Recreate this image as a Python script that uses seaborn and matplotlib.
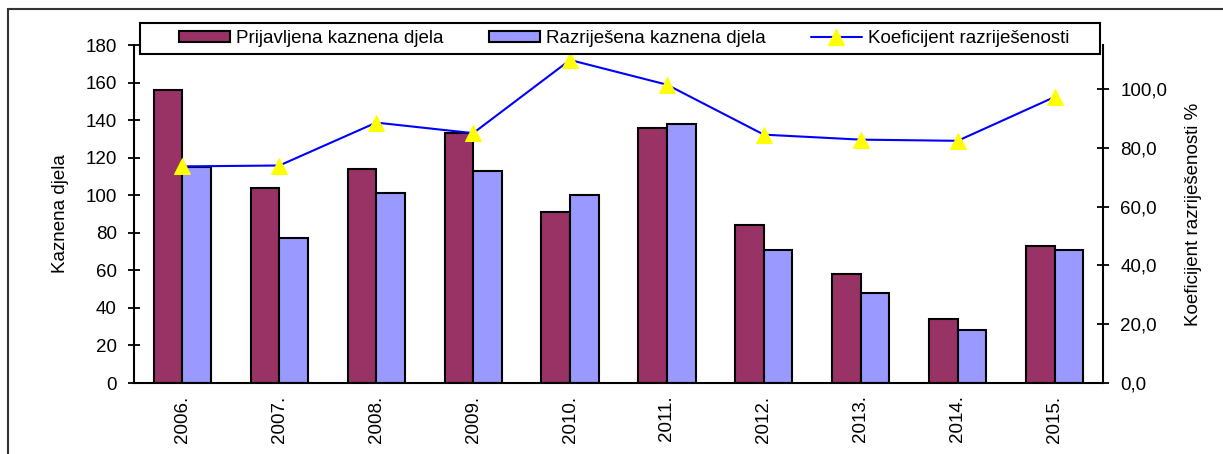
import numpy as np
import pandas as pd
import matplotlib
matplotlib.use("Agg")
import matplotlib.pyplot as plt
from matplotlib.patches import Rectangle, Patch
from matplotlib.lines import Line2D
from matplotlib.ticker import FixedLocator, FuncFormatter
import seaborn as sns

years = ["2006.", "2007.", "2008.", "2009.", "2010.", "2011.", "2012.", "2013.", "2014.", "2015."]
prijavljena = [156, 104, 114, 133, 91, 136, 84, 58, 34, 73]
razrijesena = [115, 77, 101, 113, 100, 138, 71, 48, 28, 71]
koeficijent = [73.7, 74.0, 88.6, 85.0, 109.9, 101.5, 84.5, 82.8, 82.4, 97.3]

s1 = "Prijavljena kaznena djela"
s2 = "Razriješena kaznena djela"
s3 = "Koeficijent razriješenosti"

sns.set_theme(style="white")
plt.rcParams['font.family'] = ['Liberation Sans', 'DejaVu Sans']
plt.rcParams['text.color'] = 'black'
plt.rcParams['axes.labelcolor'] = 'black'
plt.rcParams['xtick.color'] = 'black'
plt.rcParams['ytick.color'] = 'black'
FS = 13.5

df = pd.DataFrame({
    "godina": years * 2,
    "vrijednost": prijavljena + razrijesena,
    "serija": [s1] * len(years) + [s2] * len(years),
})

fig = plt.figure(figsize=(12.23, 4.54), dpi=100)
ax = fig.add_axes([134 / 1223, 1 - 383 / 454, (1103 - 134) / 1223, (383 - 45) / 454])

sns.barplot(data=df, x="godina", y="vrijednost", hue="serija", order=years,
            hue_order=[s1, s2], palette=["#993366", "#9999FF"], width=0.59,
            edgecolor="black", linewidth=1.5, saturation=1, legend=False, ax=ax)

ax.set_ylim(0, 180)
ax.set_xlim(-0.5, len(years) - 0.5)
ax.set_yticks(np.arange(0, 181, 20))
ax.set_ylabel("Kaznena djela", fontsize=FS, labelpad=12)
ax.set_xlabel("")
ax.set_xticks(np.arange(len(years)))
ax.set_xticklabels(years, rotation=90, fontsize=FS)
ax.xaxis.set_minor_locator(FixedLocator(np.arange(-0.5, len(years), 1.0)))
ax.tick_params(axis="x", which="major", length=0, pad=9)
ax.tick_params(axis="x", which="minor", length=9, direction="inout", width=1.3, color="black")
ax.tick_params(axis="y", length=9, direction="inout", width=1.3, color="black",
               labelsize=FS, left=True, pad=8)
for side in ["top", "right"]:
    ax.spines[side].set_visible(False)
for side in ["left", "bottom"]:
    ax.spines[side].set_color("black")
    ax.spines[side].set_linewidth(1.5)
ax.grid(False)

ax2 = ax.twinx()
sns.lineplot(x=np.arange(len(years)), y=koeficijent, ax=ax2, color="#0000FF",
             linewidth=1.5, marker="^", markersize=12, markerfacecolor="#FFFF00",
             markeredgecolor="#FFFF00", legend=False)
ax2.set_ylim(0, 115)
ax2.set_yticks(np.arange(0, 101, 20))
ax2.yaxis.set_major_formatter(FuncFormatter(lambda v, p: f"{v:.1f}".replace(".", ",")))
ax2.tick_params(axis="y", length=9, direction="inout", width=1.3, color="black",
                labelsize=FS, right=True, pad=8)
ax2.set_ylabel("Koeficijent razriješenosti %", fontsize=FS, labelpad=13)
for side in ["top", "left", "bottom"]:
    ax2.spines[side].set_visible(False)
ax2.spines["right"].set_color("black")
ax2.spines["right"].set_linewidth(1.5)
ax2.grid(False)

handles = [
    Patch(facecolor="#993366", edgecolor="black", linewidth=1.5),
    Patch(facecolor="#9999FF", edgecolor="black", linewidth=1.5),
    Line2D([], [], color="#0000FF", linewidth=1.5, marker="^", markersize=12,
           markerfacecolor="#FFFF00", markeredgecolor="#FFFF00"),
]
leg = fig.legend(handles, [s1, s2, s3], ncol=3,
                 bbox_to_anchor=(624 / 1223, 1 - 38.5 / 454),
                 loc="center", fontsize=FS, frameon=False,
                 handlelength=2.75, handleheight=0.55, handletextpad=0.3,
                 columnspacing=2.4, borderpad=0, borderaxespad=0)

fig.patches.append(Rectangle((140 / 1223, 1 - 54 / 454), 960 / 1223, 31 / 454,
                             transform=fig.transFigure, facecolor="white",
                             edgecolor="black", linewidth=1.5, zorder=0))
fig.patches.append(Rectangle((8 / 1223, -0.1), 1.2, 1.1 - 9 / 454,
                             transform=fig.transFigure, fill=False,
                             edgecolor="#333333", linewidth=1.5))

fig.savefig("out.png", dpi=100)
